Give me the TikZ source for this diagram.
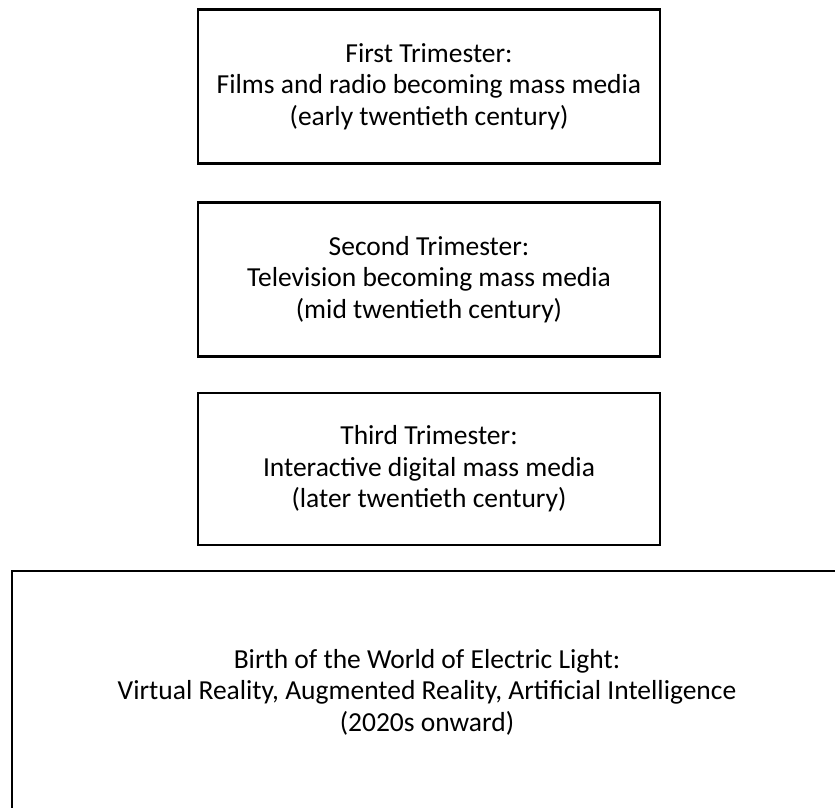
\documentclass[tikz,border=0pt]{standalone}
\usepackage{fontspec}
\setmainfont{Carlito}
\begin{document}
\begin{tikzpicture}[x=1pt,y=-1pt,
  stage/.style={draw=black, line width=2.5pt, fill=white, align=center,
    font=\fontsize{27.5}{31.5}\selectfont, inner sep=0pt},
  smallbox/.style={stage, minimum width=462pt, minimum height=154pt}]
\useasboundingbox (0,0) rectangle (835,808);
\clip (0,0) rectangle (835,808);
\node[smallbox] (t1) at (429,86.5) {First Trimester:\\Films and radio becoming mass media\\(early twentieth century)};
\node[smallbox] (t2) at (429,279.5) {Second Trimester:\\Television becoming mass media\\(mid twentieth century)};
\node[smallbox, minimum height=152pt] (t3) at (429,469) {Third Trimester:\\Interactive digital mass media\\(later twentieth century)};
\node[stage, minimum width=830pt, minimum height=242pt] (birth) at (427,692) {Birth of the World of Electric Light:\\Virtual Reality, Augmented Reality, Artificial Intelligence\\(2020s onward)};
\end{tikzpicture}
\end{document}
